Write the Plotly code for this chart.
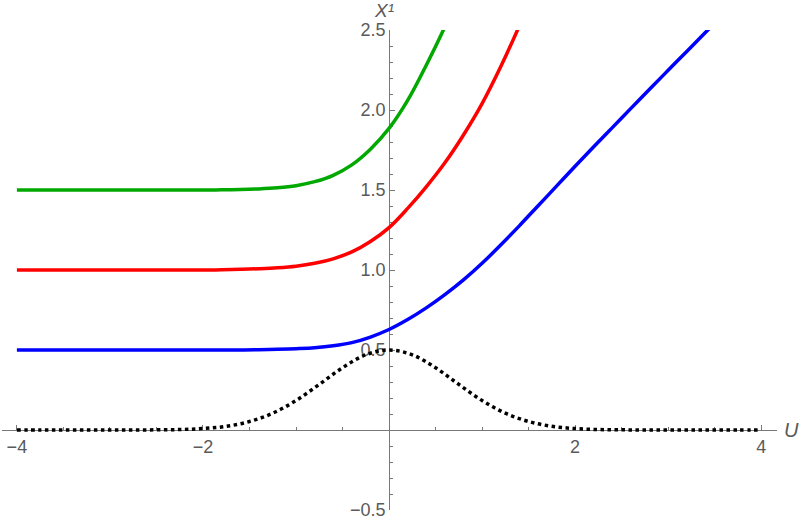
import plotly.graph_objects as go

# ---- data ----
u_dot = [-4, -3.75, -3.5, -3.25, -3, -2.75, -2.5, -2.25, -2, -1.75, -1.5, -1.25, -1, -0.75,
         -0.5, -0.25, 0, 0.25, 0.5, 0.75, 1, 1.25, 1.5, 1.75, 2, 2.25, 2.5, 2.75, 3,
         3.25, 3.5, 3.75, 4]
v_dot = [0, 0, 0, 0, 0, 0, 0.001, 0.003, 0.009, 0.023, 0.053, 0.105, 0.184, 0.285,
         0.389, 0.470, 0.5, 0.470, 0.389, 0.285, 0.184, 0.105, 0.053, 0.023, 0.009, 0.003,
         0.001, 0, 0, 0, 0, 0, 0]

u_blue = [-4, -3.6, -3.2, -2.8, -2.4, -2.0, -1.8, -1.6, -1.4, -1.2, -1.0, -0.8, -0.6, -0.4, -0.2,
          0, 0.2, 0.4, 0.6, 0.8, 1.0, 1.2, 1.4, 1.6, 1.8, 2.0, 2.2, 2.4, 2.6, 2.8, 3.0,
          3.2, 3.4, 3.6]
v_blue = [0.5, 0.5, 0.5, 0.5, 0.5, 0.5, 0.5, 0.5005, 0.5015, 0.504, 0.508, 0.514, 0.526, 0.546, 0.581,
          0.628, 0.69, 0.763, 0.846, 0.938, 1.042, 1.156, 1.276, 1.40, 1.524, 1.648, 1.77,
          1.89, 2.01, 2.13, 2.248, 2.366, 2.484, 2.602]

u_red = [-4, -3.6, -3.2, -2.8, -2.4, -2.0, -1.8, -1.6, -1.4, -1.2, -1.0, -0.8, -0.6, -0.4, -0.2,
         0, 0.2, 0.4, 0.6, 0.8, 1.0, 1.2, 1.4, 1.6]
v_red = [1.0, 1.0, 1.0, 1.0, 1.0, 1.0, 1.001, 1.004, 1.008, 1.014, 1.024, 1.042, 1.07, 1.113, 1.178,
         1.265, 1.385, 1.52, 1.67, 1.844, 2.04, 2.27, 2.525, 2.80]

u_green = [-4, -3.6, -3.2, -2.8, -2.4, -2.0, -1.8, -1.6, -1.4, -1.2, -1.0, -0.8, -0.6, -0.4, -0.2,
           0, 0.2, 0.4, 0.6, 0.8]
v_green = [1.5, 1.5, 1.5, 1.5, 1.5, 1.5, 1.501, 1.503, 1.507, 1.514, 1.527, 1.552, 1.592, 1.657, 1.755,
           1.885, 2.06, 2.28, 2.52, 2.79]

x_tickvals = [-4, -2, 2, 4]
x_ticktext = ["\u22124", "\u22122", "2", "4"]
y_tickvals = [-0.5, 0.5, 1.0, 1.5, 2.0, 2.5]
y_ticktext = ["\u22120.5", "0.5", "1.0", "1.5", "2.0", "2.5"]

x_range = [-4.16, 4.17]
y_range = [-0.5, 2.5]

axis_col = "rgb(120,120,120)"
label_col = "rgb(90,90,90)"
font_fam = "Liberation Sans"

fig = go.Figure()
fig.add_trace(go.Scatter(x=u_blue, y=v_blue, mode="lines",
                         line=dict(color="#0000FF", width=3.5, shape="spline", smoothing=1.0)))
fig.add_trace(go.Scatter(x=u_red, y=v_red, mode="lines",
                         line=dict(color="#FF0000", width=3.5, shape="spline", smoothing=1.0)))
fig.add_trace(go.Scatter(x=u_green, y=v_green, mode="lines",
                         line=dict(color="#00A800", width=3.5, shape="spline", smoothing=1.0)))
fig.add_trace(go.Scatter(x=u_dot, y=v_dot, mode="lines",
                         line=dict(color="#000000", width=3.5, dash="dot", shape="spline", smoothing=1.0)))

ypos_for_x = (0 - y_range[0]) / (y_range[1] - y_range[0])
xpos_for_y = (0 - x_range[0]) / (x_range[1] - x_range[0])

fig.update_layout(
    width=800, height=521,
    margin=dict(l=2, r=23, t=30, b=11),
    paper_bgcolor="white", plot_bgcolor="white",
    showlegend=False,
    xaxis=dict(range=x_range, anchor="free", position=ypos_for_x,
               showline=True, linecolor=axis_col, linewidth=1,
               showgrid=False, zeroline=False,
               tickmode="array", tickvals=x_tickvals, ticktext=x_ticktext,
               ticks="inside", ticklen=5, tickcolor=axis_col, tickwidth=1,
               minor=dict(tickmode="linear", tick0=0, dtick=0.5, ticks="inside",
                          ticklen=3, tickcolor=axis_col),
               tickfont=dict(family=font_fam, size=18, color=label_col),
               layer="below traces", fixedrange=True),
    yaxis=dict(range=y_range, anchor="free", position=xpos_for_y,
               showline=True, linecolor=axis_col, linewidth=1,
               showgrid=False, zeroline=False,
               tickmode="array", tickvals=y_tickvals, ticktext=y_ticktext,
               ticks="inside", ticklen=5, tickcolor=axis_col, tickwidth=1,
               minor=dict(tickmode="linear", tick0=0, dtick=0.1, ticks="inside",
                          ticklen=3, tickcolor=axis_col),
               tickfont=dict(family=font_fam, size=18, color=label_col),
               layer="below traces", fixedrange=True),
    annotations=[
        dict(text="<i>U</i>", xref="paper", yref="y", x=1, y=0, xanchor="left",
             yanchor="middle", xshift=5, showarrow=False,
             font=dict(family=font_fam, size=20, color=label_col)),
        dict(text="<i>X\u00b9</i>", xref="x", yref="paper", x=0, y=1,
             xanchor="center", yanchor="bottom", xshift=-5, yshift=8, showarrow=False,
             borderpad=0, font=dict(family=font_fam, size=19, color=label_col)),
    ],
)

fig.write_html("out.html", config={"displayModeBar": False},
               post_script="document.body.style.margin='0';document.body.style.overflow='hidden';")
